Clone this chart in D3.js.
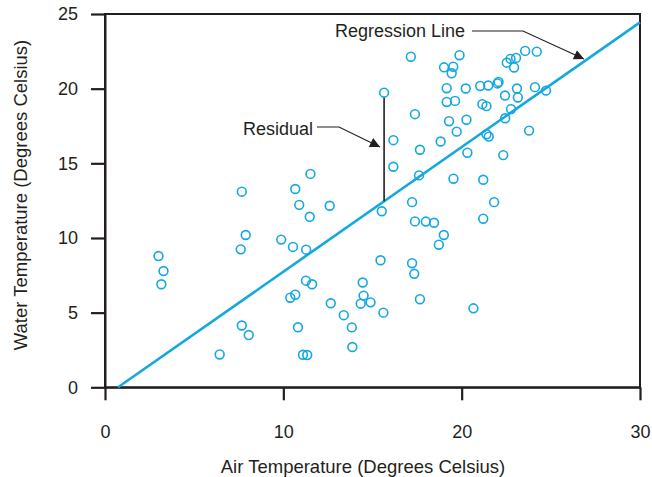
<!DOCTYPE html>
<html>
<head>
<meta charset="utf-8">
<script src="https://cdn.jsdelivr.net/npm/d3@7"></script>
<style>
  html, body { margin: 0; padding: 0; background: #fff; }
  svg { display: block; }
  text { font-family: "Liberation Sans", Arial, Helvetica, sans-serif; fill: #231f20; }
</style>
</head>
<body>
<svg id="chart" width="652" height="477"></svg>
<script>
// ---- Data ----
const airTemp = [
  3.00, 3.28, 3.16, 6.43, 7.67, 7.89, 7.61, 7.67, 8.06, 9.88,
  10.54, 10.67, 10.89, 11.28, 11.52, 11.48, 12.60, 10.39, 10.67, 10.82,
  11.27, 11.61, 11.10, 11.34, 12.66, 13.39, 13.84, 13.87, 14.45, 14.50,
  14.34, 14.89, 15.45, 15.61, 15.65, 16.17, 16.17, 15.52, 17.15, 17.22,
  17.38, 17.38, 17.22, 17.34, 17.66, 17.61, 17.66, 17.99, 18.45, 18.82,
  19.00, 18.72, 19.01, 19.53, 19.44, 19.88, 19.16, 19.16, 19.63, 19.29,
  19.72, 19.54, 20.23, 20.27, 20.32, 21.04, 21.49, 22.01, 22.07, 21.16,
  21.39, 21.39, 21.52, 21.21, 21.82, 21.21, 20.66, 22.33, 22.43, 22.44,
  22.53, 22.74, 23.05, 22.94, 22.77, 23.10, 23.15, 23.56, 24.21, 23.78,
  24.11, 24.73
];
const waterTemp = [
  8.79, 7.79, 6.90, 2.20, 13.10, 10.20, 9.24, 4.14, 3.50, 9.89,
  9.40, 13.28, 12.22, 9.22, 14.29, 11.42, 12.16, 6.00, 6.20, 4.02,
  7.14, 6.90, 2.18, 2.16, 5.63, 4.83, 4.01, 2.70, 7.02, 6.14,
  5.60, 5.69, 8.51, 5.00, 19.73, 16.55, 14.77, 11.79, 22.14, 12.40,
  18.29, 11.11, 8.31, 7.60, 15.91, 14.19, 5.90, 11.10, 11.02, 16.46,
  10.20, 9.55, 21.43, 21.47, 21.03, 22.24, 20.03, 19.11, 19.18, 17.82,
  17.12, 13.97, 20.01, 17.92, 15.71, 20.18, 20.21, 20.35, 20.45, 18.96,
  18.83, 16.95, 16.79, 13.90, 12.40, 11.29, 5.29, 15.55, 19.54, 18.02,
  21.74, 21.99, 22.06, 21.42, 18.63, 20.01, 19.41, 22.53, 22.48, 17.19,
  20.10, 19.87
];
const xTicks = [0, 10, 20, 30];
const yTicks = [0, 5, 10, 15, 20, 25];
const regression = { slope: 0.835, intercept: -0.61, xStart: 0.73, xEnd: 30 };
const residualIndex = 34;
const labels = {
  x: "Air Temperature (Degrees Celsius)",
  y: "Water Temperature (Degrees Celsius)",
  regression: "Regression Line",
  residual: "Residual"
};

// ---- Drawing ----
const blue = "#14a8e0";
const ink = "#231f20";
const svg = d3.select("#chart");
const x = d3.scaleLinear().domain([0, 30]).range([105, 640]);
const y = d3.scaleLinear().domain([0, 25]).range([387.3, 14]);

const defs = svg.append("defs");
defs.append("marker")
  .attr("id", "arrow")
  .attr("viewBox", "0 0 10 10")
  .attr("refX", 10).attr("refY", 5)
  .attr("markerUnits", "userSpaceOnUse")
  .attr("markerWidth", 16).attr("markerHeight", 10)
  .attr("orient", "auto")
  .append("path")
  .attr("d", "M0,0 L10,5 L0,10 z")
  .attr("fill", ink);

// frame
svg.append("rect")
  .attr("x", x(0)).attr("y", y(25))
  .attr("width", x(30) - x(0)).attr("height", y(0) - y(25))
  .attr("fill", "none").attr("stroke", ink).attr("stroke-width", 2);

// axes
const xAxis = svg.append("g")
  .attr("transform", `translate(0,${y(0)})`)
  .call(d3.axisBottom(x).tickValues(xTicks).tickSize(13).tickPadding(25).tickSizeOuter(0));
const yAxis = svg.append("g")
  .attr("transform", `translate(${x(0)},0)`)
  .call(d3.axisLeft(y).tickValues(yTicks).tickSize(14).tickPadding(13).tickSizeOuter(0));
[xAxis, yAxis].forEach(g => {
  g.select(".domain").attr("stroke", ink).attr("stroke-width", 2);
  g.selectAll(".tick line").attr("stroke", ink).attr("stroke-width", 2.2);
  g.selectAll(".tick text").attr("fill", ink)
    .style("font-family", '"Liberation Sans", Arial, sans-serif')
    .style("font-size", "18px");
});

// axis titles
svg.append("text")
  .attr("x", 363).attr("y", 472.5)
  .attr("text-anchor", "middle")
  .style("font-size", "18.5px")
  .text(labels.x);
svg.append("text")
  .attr("transform", `translate(27,${195}) rotate(-90)`)
  .attr("text-anchor", "middle")
  .style("font-size", "18.5px")
  .text(labels.y);

// regression line
svg.append("line")
  .attr("x1", x(regression.xStart))
  .attr("y1", y(regression.slope * regression.xStart + regression.intercept))
  .attr("x2", x(regression.xEnd))
  .attr("y2", y(regression.slope * regression.xEnd + regression.intercept))
  .attr("stroke", blue).attr("stroke-width", 2.6);

// residual
const rx = airTemp[residualIndex], ry = waterTemp[residualIndex];
svg.append("line")
  .attr("x1", x(rx)).attr("x2", x(rx))
  .attr("y1", y(ry) + 4.5)
  .attr("y2", y(regression.slope * rx + regression.intercept))
  .attr("stroke", ink).attr("stroke-width", 1.6);

// points
const pts = airTemp.map((a, i) => ({ a, w: waterTemp[i] }));
svg.append("g").selectAll("circle").data(pts).join("circle")
  .attr("cx", d => x(d.a)).attr("cy", d => y(d.w))
  .attr("r", 4.4)
  .attr("fill", "none").attr("stroke", blue).attr("stroke-width", 1.6);

// annotations
svg.append("text")
  .attr("x", 465).attr("y", 36.5)
  .attr("text-anchor", "end")
  .style("font-size", "18px")
  .text(labels.regression);
svg.append("polyline")
  .attr("points", "472,31 523,31 584,59")
  .attr("fill", "none").attr("stroke", ink).attr("stroke-width", 1.2)
  .attr("marker-end", "url(#arrow)");

svg.append("text")
  .attr("x", 313).attr("y", 134.5)
  .attr("text-anchor", "end")
  .style("font-size", "18px")
  .text(labels.residual);
svg.append("polyline")
  .attr("points", "317,127 339,127 380,147")
  .attr("fill", "none").attr("stroke", ink).attr("stroke-width", 1.2)
  .attr("marker-end", "url(#arrow)");
</script>
</body>
</html>
